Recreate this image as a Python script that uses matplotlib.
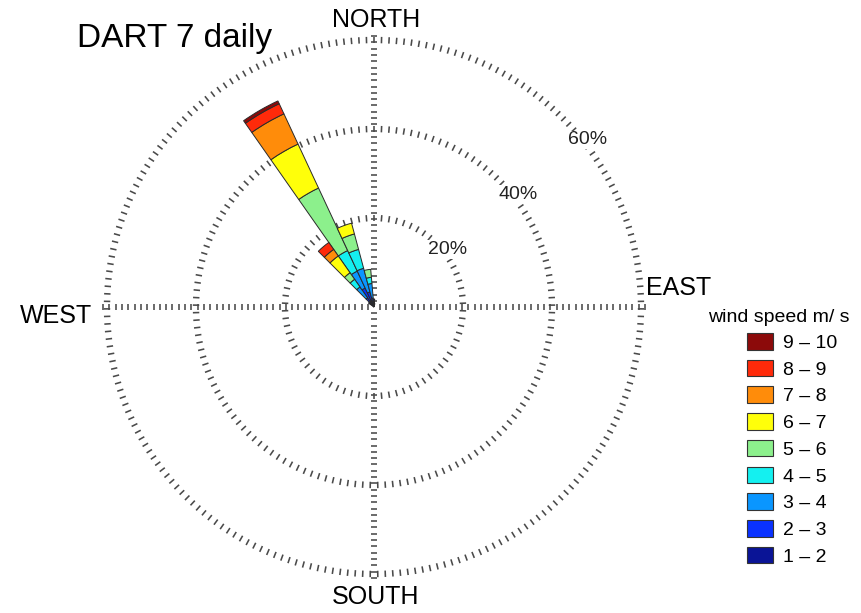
import numpy as np
import matplotlib.pyplot as plt
from matplotlib.collections import LineCollection
from matplotlib.patches import Patch

plt.rcParams['font.family'] = ['Liberation Sans', 'DejaVu Sans']

# wind direction sectors (deg clockwise from north), 10 deg bins
directions = [310, 320, 330, 340, 350, 0, 10]
speed_bins = ['1 – 2', '2 – 3', '3 – 4', '4 – 5', '5 – 6',
              '6 – 7', '7 – 8', '8 – 9', '9 – 10']
# frequency (%) of each speed class per direction
f_1_2 = [1.5, 1.0, 1.5, 1.5, 1.0, 1.2, 0.8]
f_2_3 = [0.0, 1.5, 3.2, 2.0, 1.0, 0.6, 0.0]
f_3_4 = [0.0, 3.0, 4.2, 5.5, 3.3, 0.0, 0.0]
f_4_5 = [0.0, 2.1, 5.1, 4.4, 1.4, 0.0, 0.0]
f_5_6 = [0.0, 1.8, 15.5, 3.6, 1.8, 0.0, 0.0]
f_6_7 = [0.0, 4.6, 10.9, 2.5, 0.0, 0.0, 0.0]
f_7_8 = [0.0, 1.8, 7.5, 0.0, 0.0, 0.0, 0.0]
f_8_9 = [0.0, 1.9, 2.5, 0.0, 0.0, 0.0, 0.0]
f_9_10 = [0.0, 0.0, 0.7, 0.0, 0.0, 0.0, 0.0]
speed_freqs = [f_1_2, f_2_3, f_3_4, f_4_5, f_5_6, f_6_7, f_7_8, f_8_9, f_9_10]

colors = ['#0a1496', '#0a32ff', '#0a96ff', '#14f0f0', '#8cf08c',
          '#ffff0a', '#ff8c0a', '#ff2a0a', '#8c0a0a']

ring_values = [20, 40, 60]
ring_labels = ['20%', '40%', '60%']

W, H = 861, 613
cx, cy, R = 374, 307, 267   # centre and radius of 60% ring, pixels

fig = plt.figure(figsize=(W / 100, H / 100), dpi=100)
ax = fig.add_axes([(cx - R) / W, (H - cy - R) / H, 2 * R / W, 2 * R / H],
                  projection='polar')
ax.set_theta_zero_location('N')
ax.set_theta_direction(-1)
ax.set_ylim(0, 60)
ax.axis('off')

# dotted grid: short strokes across the rings and across the N-S / E-W lines
px = 60 / R
segs = []
for rv in ring_values:
    n = int(2 * np.pi * rv / px / 7.5)
    for t in np.linspace(0, 2 * np.pi, n, endpoint=False):
        segs.append([(t, rv - 3.2 * px), (t, rv + 3.2 * px)])
for t0 in np.deg2rad([0, 90, 180, 270]):
    for r in np.arange(6.3 * px, 61, 6.3 * px):
        d = 2.7 * px / r
        segs.append([(t0 - d, r), (t0 + d, r)])
ax.add_collection(LineCollection(segs, colors='#4a4a4a', linewidths=1.15,
                                 zorder=1, clip_on=False))

# stacked sectors
theta = np.deg2rad(directions)
bottom = np.zeros(len(directions))
for vals, c in zip(speed_freqs, colors):
    vals = np.array(vals)
    m = vals > 0
    ax.bar(theta[m], vals[m], width=np.deg2rad(10), bottom=bottom[m],
           color=c, edgecolor='#2a2a2a', linewidth=0.7, zorder=2)
    bottom += vals

for rv, lab in zip(ring_values, ring_labels):
    ax.text(np.deg2rad(52), rv + 1, lab, fontsize=14, ha='center', va='center',
            color='#222222', zorder=3,
            bbox=dict(facecolor='white', edgecolor='none', pad=0.5))

fig.text(77 / W, 1 - 38 / H, 'DART 7 daily', fontsize=24, ha='left', va='center')
fig.text(376 / W, 1 - 20 / H, 'NORTH', fontsize=18, ha='center', va='center')
fig.text(376 / W, 1 - 597 / H, 'SOUTH', fontsize=18, ha='center', va='center')
fig.text(92 / W, 1 - 316 / H, 'WEST', fontsize=18, ha='right', va='center')
fig.text(646 / W, 1 - 288 / H, 'EAST', fontsize=18, ha='left', va='center')
fig.text(708 / W, 1 - 318 / H, 'wind speed m/ s', fontsize=14, ha='left', va='center')

handles = [Patch(facecolor=c, edgecolor='#333333', linewidth=0.8, label=l)
           for c, l in zip(colors, speed_bins)][::-1]
fig.legend(handles=handles, loc='upper left', bbox_to_anchor=(747 / W, 1 - 333 / H),
           frameon=False, fontsize=14, handlelength=1.34, handleheight=0.93,
           handletextpad=0.5, labelspacing=0.4, borderpad=0, borderaxespad=0)

fig.savefig('out.png', dpi=100)
